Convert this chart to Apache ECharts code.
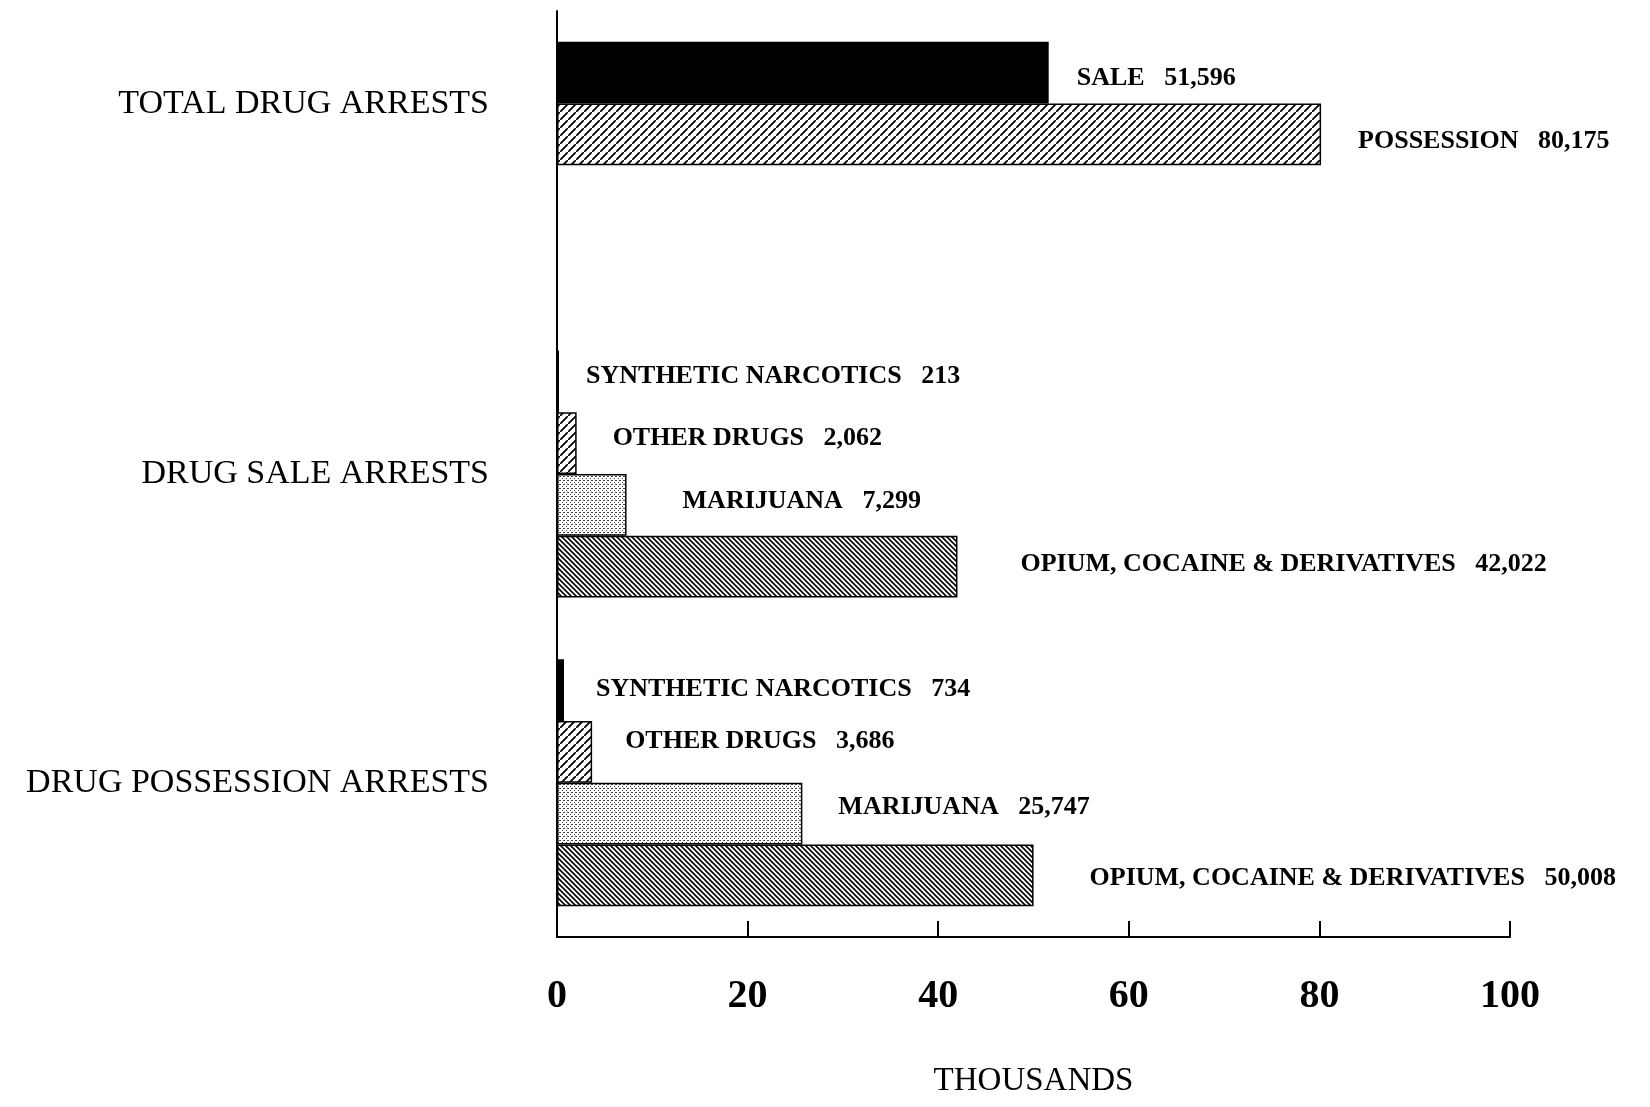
<!DOCTYPE html>
<html>
<head>
<meta charset="utf-8">
<script src="https://cdn.jsdelivr.net/npm/echarts@6/dist/echarts.min.js"></script>
<style>
  html, body { margin: 0; padding: 0; background: #fff; }
  #chart { width: 1650px; height: 1107px; }
</style>
</head>
<body>
<div id="chart"></div>
<script>
// data
const groupNames = ["TOTAL DRUG ARRESTS", "DRUG SALE ARRESTS", "DRUG POSSESSION ARRESTS"];
const totalTypes = ["SALE", "POSSESSION"];
const totalCounts = [51596, 80175];
const drugTypes = ["SYNTHETIC NARCOTICS", "OTHER DRUGS", "MARIJUANA", "OPIUM, COCAINE & DERIVATIVES"];
const saleCounts = [213, 2062, 7299, 42022];
const possessionCounts = [734, 3686, 25747, 50008];
const xTicks = [0, 20, 40, 60, 80, 100];

const FONT = "Liberation Serif";

// fills
function hatch(size, forward, lw) {
  const c = document.createElement("canvas");
  c.width = c.height = size;
  const ctx = c.getContext("2d");
  ctx.fillStyle = "#fff";
  ctx.fillRect(0, 0, size, size);
  ctx.strokeStyle = "#000";
  ctx.lineWidth = lw;
  ctx.beginPath();
  if (forward) {
    ctx.moveTo(-size, size * 2); ctx.lineTo(size * 2, -size);
    ctx.moveTo(-size * 2, size); ctx.lineTo(size, -size * 2);
    ctx.moveTo(0, size * 3); ctx.lineTo(size * 3, 0);
  } else {
    ctx.moveTo(-size, -size); ctx.lineTo(size * 2, size * 2);
    ctx.moveTo(-size * 2, -size); ctx.lineTo(size, size * 2);
    ctx.moveTo(0, -size); ctx.lineTo(size * 3, size * 2);
  }
  ctx.stroke();
  return { image: c, repeat: "repeat" };
}
function dots() {
  const c = document.createElement("canvas");
  c.width = c.height = 4;
  const ctx = c.getContext("2d");
  ctx.fillStyle = "#fff";
  ctx.fillRect(0, 0, 4, 4);
  ctx.fillStyle = "#444";
  ctx.fillRect(0, 0, 1, 1);
  ctx.fillRect(2, 2, 1, 1);
  ctx.fillRect(3, 0, 1, 1);
  return { image: c, repeat: "repeat" };
}
const solid = "#000";
const sparseHatch = hatch(8, true, 1.8);
const denseHatch = hatch(5, false, 1.6);
const stipple = dots();

const totalFills = [solid, sparseHatch];
const drugFills = [solid, sparseHatch, stipple, denseHatch];

// rows, top to bottom (null = empty slot)
const rows = [null];
totalTypes.forEach((t, i) => rows.push({ name: t, count: totalCounts[i], fill: totalFills[i], group: 0 }));
rows.push(null, null, null);
drugTypes.forEach((t, i) => rows.push({ name: t, count: saleCounts[i], fill: drugFills[i], group: 1 }));
rows.push(null);
drugTypes.forEach((t, i) => rows.push({ name: t, count: possessionCounts[i], fill: drugFills[i], group: 2 }));
rows.push(null);

// label nudges (px) for each bar in order
const labelGap = [28, 37, 27, 36, 56, 63, 32, 33, 36, 56];
const labelDy = [6, 7, -5, -5, -4, -2, -1, -11, -6, 3];

const groupPos = groupNames.map((g, gi) => {
  const idx = rows.map((r, i) => (r && r.group === gi ? i : -1)).filter((i) => i >= 0);
  return (idx[0] + idx[idx.length - 1]) / 2;
});

let k = 0;
const barData = rows.map((r) => {
  if (!r) return { value: null };
  const j = k++;
  return {
    value: r.count / 1000,
    itemStyle: { color: r.fill },
    label: { distance: labelGap[j], offset: [0, labelDy[j]] },
  };
});

const chart = echarts.init(document.getElementById("chart"));
chart.setOption({
  backgroundColor: "#fff",
  animation: false,
  grid: { left: 557, right: 140, top: 11, bottom: 170, outerBoundsMode: "none" },
  xAxis: {
    type: "value",
    position: "bottom",
    min: xTicks[0],
    max: xTicks[xTicks.length - 1],
    interval: xTicks[1] - xTicks[0],
    axisLine: { show: true, onZero: false, lineStyle: { color: "#000", width: 2 } },
    axisTick: { show: true, inside: true, length: 16, lineStyle: { color: "#000", width: 2 } },
    splitLine: { show: false },
    axisLabel: { margin: 40, color: "#000", fontFamily: FONT, fontWeight: "bold", fontSize: 40 },
    name: "THOUSANDS",
    nameLocation: "middle",
    nameGap: 128,
    nameTextStyle: { color: "#000", fontFamily: FONT, fontSize: 33 },
  },
  yAxis: [
    {
      type: "category",
      inverse: true,
      boundaryGap: false,
      data: rows.map((r, i) => (r ? r.name + i : "empty" + i)),
      axisLine: { show: true, onZero: false, lineStyle: { color: "#000", width: 2 } },
      axisTick: { show: false },
      axisLabel: { show: false },
      splitLine: { show: false },
    },
    {
      type: "value",
      inverse: true,
      position: "left",
      min: 0,
      max: rows.length - 1,
      axisLine: { show: false, onZero: false },
      axisTick: { show: false },
      splitLine: { show: false },
      axisLabel: {
        customValues: groupPos,
        margin: 68,
        color: "#000",
        fontFamily: FONT,
        fontSize: 34,
        formatter: (v) => groupNames[groupPos.indexOf(v)] || "",
      },
    },
  ],
  series: [
    {
      type: "bar",
      yAxisIndex: 0,
      barWidth: "100%",
      data: barData,
      itemStyle: { borderColor: "#000", borderWidth: 1.5 },
      label: {
        show: true,
        position: "right",
        color: "#000",
        fontFamily: FONT,
        fontWeight: "bold",
        fontSize: 26,
        formatter: (p) => {
          const r = rows[p.dataIndex];
          return r ? r.name + "   " + r.count.toLocaleString("en-US") : "";
        },
      },
    },
  ],
});
</script>
</body>
</html>
